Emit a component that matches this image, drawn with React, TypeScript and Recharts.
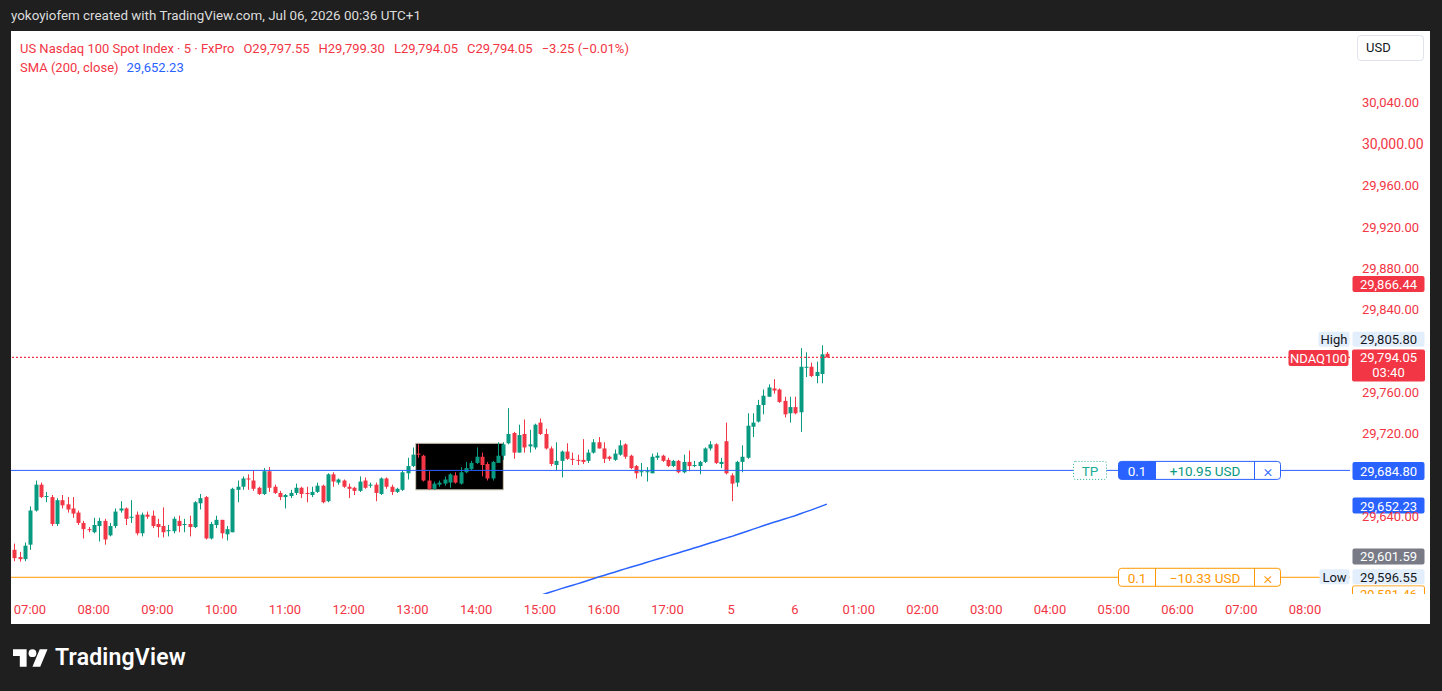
import React from 'react';
import { ComposedChart, Bar, Line, XAxis, YAxis, ReferenceLine, ReferenceArea } from 'recharts';

// 5-minute candles
const opens = [
  29608, 29601, 29599, 29613, 29646, 29671, 29659, 29659, 29633, 29656,
  29652, 29648, 29644, 29634, 29628, 29625, 29631, 29636, 29622, 29631,
  29646, 29648, 29639, 29642, 29624, 29642, 29641, 29633, 29631, 29626,
  29626, 29636, 29632, 29633, 29630, 29653, 29659, 29619, 29632, 29637,
  29623, 29625, 29666, 29669, 29677, 29675, 29668, 29662, 29684, 29669,
  29663, 29659, 29660, 29663, 29668, 29663, 29661, 29664, 29670, 29655,
  29681, 29673, 29675, 29669, 29668, 29665, 29675, 29670, 29671, 29662,
  29677, 29669, 29664, 29666, 29682, 29689, 29701, 29699, 29675, 29667,
  29671, 29672, 29673, 29680, 29672, 29683, 29686, 29692, 29698, 29691,
  29677, 29692, 29699, 29711, 29721, 29702, 29720, 29708, 29707, 29731,
  29720, 29706, 29690, 29694, 29703, 29696, 29695, 29695, 29694, 29702,
  29712, 29706, 29698, 29695, 29700, 29710, 29699, 29689, 29683, 29683,
  29682, 29697, 29699, 29695, 29689, 29694, 29683, 29693, 29689, 29689,
  29693, 29706, 29710, 29691, 29713, 29680, 29673, 29693, 29697, 29727,
  29732, 29748, 29756, 29764, 29763, 29752, 29740, 29746, 29741, 29784,
  29785, 29776, 29778, 29797.55,
];
const highs = [
  29614, 29606, 29615, 29650, 29675, 29673, 29664, 29661, 29658, 29661,
  29659, 29659, 29646, 29636, 29630, 29639, 29639, 29638, 29634, 29648,
  29655, 29649, 29656, 29645, 29644, 29645, 29646, 29638, 29649, 29632,
  29640, 29641, 29638, 29641, 29655, 29662, 29660, 29635, 29641, 29637,
  29631, 29668, 29675, 29679, 29681, 29685, 29669, 29687, 29688, 29671,
  29665, 29662, 29666, 29672, 29669, 29669, 29669, 29673, 29671, 29682,
  29683, 29677, 29676, 29672, 29669, 29679, 29678, 29673, 29673, 29678,
  29678, 29671, 29668, 29685, 29697, 29707, 29710, 29700, 29684, 29674,
  29675, 29679, 29682, 29683, 29688, 29693, 29694, 29707, 29702, 29693,
  29694, 29712, 29712, 29745, 29722, 29729, 29734, 29724, 29730, 29735,
  29725, 29708, 29712, 29704, 29711, 29702, 29700, 29715, 29705, 29715,
  29717, 29712, 29699, 29705, 29714, 29711, 29700, 29690, 29692, 29688,
  29701, 29702, 29700, 29697, 29695, 29695, 29700, 29704, 29694, 29694,
  29707, 29713, 29711, 29697, 29731, 29682, 29694, 29709, 29740, 29740,
  29753, 29763, 29768, 29773, 29764, 29756, 29756, 29756, 29803, 29799,
  29789, 29790, 29805.8, 29799.3,
];
const lows = [
  29597, 29596.55, 29597, 29608, 29645, 29658, 29654, 29631, 29631, 29648,
  29644, 29639, 29632, 29619, 29625, 29624, 29616, 29613, 29621, 29629,
  29644, 29632, 29634, 29622, 29621, 29638, 29629, 29620, 29620, 29621,
  29624, 29625, 29625, 29621, 29629, 29647, 29618, 29618, 29629, 29619,
  29617, 29625, 29654, 29666, 29666, 29665, 29661, 29661, 29664, 29662,
  29656, 29648, 29658, 29661, 29658, 29654, 29659, 29663, 29653, 29654,
  29669, 29671, 29668, 29658, 29661, 29664, 29667, 29668, 29655, 29661,
  29667, 29661, 29663, 29665, 29676, 29688, 29697, 29674, 29666, 29666,
  29669, 29670, 29668, 29672, 29671, 29682, 29685, 29691, 29679, 29675,
  29675, 29692, 29695, 29710, 29696, 29702, 29702, 29702, 29705, 29719,
  29705, 29689, 29685, 29678, 29695, 29690, 29690, 29691, 29692, 29701,
  29706, 29692, 29694, 29694, 29699, 29696, 29686, 29677, 29679, 29674,
  29682, 29695, 29693, 29688, 29688, 29682, 29682, 29684, 29688, 29681,
  29692, 29704, 29691, 29687, 29681, 29655, 29669, 29683, 29696, 29717,
  29731, 29739, 29756, 29759, 29750, 29736, 29731, 29739, 29722, 29775,
  29775, 29769, 29769, 29794.05,
];
const closes = [
  29600, 29599, 29612, 29646, 29671, 29659, 29660, 29633, 29656, 29651,
  29647, 29643, 29634, 29628, 29627, 29632, 29636, 29618, 29631, 29645,
  29648, 29638, 29640, 29624, 29642, 29640, 29631, 29630, 29625, 29627,
  29638, 29631, 29633, 29630, 29654, 29658, 29619, 29633, 29637, 29624,
  29628, 29667, 29669, 29677, 29676, 29667, 29662, 29684, 29668, 29663,
  29659, 29661, 29663, 29668, 29662, 29662, 29664, 29670, 29654, 29681,
  29674, 29676, 29669, 29667, 29665, 29674, 29668, 29671, 29663, 29677,
  29669, 29664, 29667, 29683, 29689, 29700, 29700, 29675, 29667, 29672,
  29673, 29676, 29681, 29673, 29683, 29687, 29692, 29698, 29690, 29677,
  29693, 29699, 29710, 29720, 29702, 29719, 29707, 29710, 29729, 29720,
  29706, 29691, 29694, 29703, 29696, 29695, 29694, 29693, 29702, 29712,
  29706, 29696, 29696, 29701, 29709, 29698, 29687, 29682, 29684, 29684,
  29698, 29699, 29694, 29689, 29694, 29683, 29693, 29689, 29690, 29693,
  29706, 29710, 29692, 29693, 29682, 29672, 29693, 29698, 29728, 29731,
  29748, 29757, 29765, 29762, 29751, 29739, 29746, 29740, 29785, 29785,
  29776, 29780, 29797, 29794.05,
];

// SMA(200) — only the visible part, from bar 99 on
const smaStart = 99;
const smaValues = [
  29563.9, 29565.5, 29567.2, 29568.8, 29570.5, 29572.0, 29573.6, 29575.1, 29576.7, 29578.4,
  29580.0, 29581.7, 29583.2, 29584.8, 29586.3, 29588.0, 29589.6, 29591.1, 29592.6, 29594.1,
  29595.7, 29597.3, 29598.9, 29600.4, 29601.9, 29603.5, 29605.0, 29606.6, 29608.1, 29609.7,
  29611.2, 29612.9, 29614.6, 29616.1, 29617.7, 29619.3, 29620.8, 29622.5, 29624.2, 29626.0,
  29627.8, 29629.5, 29631.2, 29632.9, 29634.6, 29636.2, 29637.8, 29639.4, 29641.0, 29642.9,
  29644.7, 29646.4, 29648.3, 29650.3, 29652.23,
];

const timeTicks = [3, 15, 27, 39, 51, 63, 75, 87, 99, 111, 123, 135, 147, 159, 171, 183, 195, 207, 219, 231, 243];
const timeLabels = ['07:00', '08:00', '09:00', '10:00', '11:00', '12:00', '13:00', '14:00', '15:00', '16:00', '17:00', '5', '6', '01:00', '02:00', '03:00', '04:00', '05:00', '06:00', '07:00', '08:00'];
const priceTicks = [29640, 29720, 29760, 29840, 29880, 29920, 29960, 30000, 30040];

const lastPrice = 29794.05;
const tpPrice = 29684.8;
const slPrice = 29581.46;
const smaLast = 29652.23;
const highPrice = 29805.8;
const lowPrice = 29596.55;
const alertPrice = 29866.44;
const greyPrice = 29601.59;
const boxX = [75.6, 92.1];
const boxY = [29666, 29711];

const RED = '#f23645';
const GREEN = '#089981';
const BLUE = '#2962ff';
const ORANGE = '#ff9800';
const FONT = 'Roboto, "Noto Sans", sans-serif';
const PLOT_H = 563;

const fmt = (v: number) => v.toLocaleString('en-US', { minimumFractionDigits: 2, maximumFractionDigits: 2 });

const data = opens.map((o, i) => ({
  i,
  open: o,
  high: highs[i],
  low: lows[i],
  close: closes[i],
  range: [lows[i], highs[i]],
  sma: i >= smaStart ? smaValues[i - smaStart] : null,
}));

const Candle = (props: any) => {
  const { x, y, width, height, payload } = props;
  if (!payload) return null;
  const { open, close, high, low } = payload;
  const color = close >= open ? GREEN : RED;
  const top = Math.min(y, y + height);
  const h = Math.abs(height);
  const ppu = h / (high - low);
  const cx = Math.round(x + width / 2) + 0.5;
  const bTop = top + (high - Math.max(open, close)) * ppu;
  const bH = Math.max(1, Math.abs(close - open) * ppu);
  return (
    <g>
      <line x1={cx} x2={cx} y1={top} y2={top + h} stroke={color} strokeWidth={1} />
      <rect x={cx - 2} y={bTop} width={4} height={bH} fill={color} />
    </g>
  );
};

function Tag({ x, y, w, h, text, bg, fg, stroke, dash, size = 13 }: any) {
  return (
    <g>
      <rect x={x + 0.5} y={y - h / 2 + 0.5} width={w - 1} height={h - 1} rx={2} fill={bg} stroke={stroke || 'none'} strokeDasharray={dash} />
      <text x={x + w / 2} y={y + 0.5} textAnchor="middle" dominantBaseline="central" fill={fg} fontSize={size} fontFamily={FONT}>{text}</text>
    </g>
  );
}

function OrderBox({ x, y, color, qty, pnl, pnlColor, filled }: any) {
  const h = 19;
  const w = 163;
  const top = y - h / 2 + 0.5;
  return (
    <g fontFamily={FONT} fontSize={13.5}>
      <rect x={x + 0.5} y={top} width={w - 1} height={h - 1} rx={3} fill="#fff" stroke={color} />
      {filled && <rect x={x + 0.5} y={top} width={37} height={h - 1} rx={3} fill={color} />}
      {filled && <rect x={x + 30} y={top} width={7.5} height={h - 1} fill={color} />}
      <line x1={x + 37.5} x2={x + 37.5} y1={top} y2={top + h - 1} stroke={color} />
      <line x1={x + 136.5} x2={x + 136.5} y1={top} y2={top + h - 1} stroke={color} />
      <text x={x + 19} y={y + 0.5} textAnchor="middle" dominantBaseline="central" fill={filled ? '#fff' : color}>{qty}</text>
      <text x={x + 87} y={y + 0.5} textAnchor="middle" dominantBaseline="central" fill={pnlColor}>{pnl}</text>
      <text x={x + 150} y={y + 0.5} textAnchor="middle" dominantBaseline="central" fill={color} fontSize={17} fontWeight={300}>×</text>
    </g>
  );
}

const right = (vb: any) => vb.x + vb.width;

const tpLabel = ({ viewBox }: any) => {
  const r = right(viewBox);
  const y = viewBox.y;
  return (
    <g>
      <Tag x={r - 277} y={y} w={34} h={19} text="TP" bg="#fff" fg="#22ab94" stroke="#22ab94" dash="1 2" size={13.5} />
      <OrderBox x={r - 232} y={y} color={BLUE} qty="0.1" pnl="+10.95 USD" pnlColor={GREEN} filled />
      <Tag x={r + 2} y={y + 0.5} w={73} h={19} text={fmt(tpPrice)} bg={BLUE} fg="#fff" />
    </g>
  );
};

const slLabel = ({ viewBox }: any) => {
  const r = right(viewBox);
  const y = viewBox.y;
  const top = y + 8;
  return (
    <g>
      <OrderBox x={r - 232} y={y} color={ORANGE} qty="0.1" pnl={'\u221210.33 USD'} pnlColor={ORANGE} />
      <svg x={r + 2} y={top} width={73} height={Math.max(0, PLOT_H - top)} overflow="hidden">
        <rect x={0.5} y={0.5} width={72} height={17} rx={2} fill="#fff" stroke={ORANGE} />
        <text x={36.5} y={9.5} textAnchor="middle" dominantBaseline="central" fill={ORANGE} fontSize={13} fontFamily={FONT}>{fmt(slPrice)}</text>
      </svg>
    </g>
  );
};

const lastLabel = ({ viewBox }: any) => {
  const r = right(viewBox);
  const y = viewBox.y;
  return (
    <g fontFamily={FONT}>
      <Tag x={r - 62} y={y + 0.5} w={61} h={17} text="NDAQ100" bg={RED} fg="#fff" />
      <rect x={r + 2} y={y - 8} width={73} height={32} rx={2} fill={RED} />
      <text x={r + 38.5} y={y + 0.5} textAnchor="middle" dominantBaseline="central" fill="#fff" fontSize={13}>{fmt(lastPrice)}</text>
      <text x={r + 38.5} y={y + 15.5} textAnchor="middle" dominantBaseline="central" fill="#fff" fontSize={13}>03:40</text>
    </g>
  );
};

const highLabel = ({ viewBox }: any) => {
  const r = right(viewBox);
  const y = viewBox.y - 6;
  return (
    <g>
      <Tag x={r - 32} y={y} w={32} h={16} text="High" bg="#e3eefc" fg="#131722" />
      <Tag x={r + 2} y={y} w={73} h={16} text={fmt(highPrice)} bg="#e3eefc" fg="#131722" />
    </g>
  );
};

const lowLabel = ({ viewBox }: any) => {
  const r = right(viewBox);
  const y = viewBox.y + 15;
  return (
    <g>
      <Tag x={r - 31} y={y} w={31} h={16} text="Low" bg="#e3eefc" fg="#131722" />
      <Tag x={r + 2} y={y} w={73} h={16} text={fmt(lowPrice)} bg="#e3eefc" fg="#131722" />
    </g>
  );
};

const axisTag = (price: number, bg: string, dy = 0) => ({ viewBox }: any) => (
  <Tag x={right(viewBox) + 2} y={viewBox.y + dy} w={73} h={17} text={fmt(price)} bg={bg} fg="#fff" />
);

const PriceTick = (props: any) => {
  const { x, y, payload } = props;
  const big = payload.value === 30000;
  return (
    <text x={x} y={y} dominantBaseline="central" fill={RED} fontSize={big ? 14 : 13} fontFamily={FONT}>
      {fmt(payload.value)}
    </text>
  );
};

export default function App() {
  return (
    <div style={{ position: 'absolute', left: 0, top: 0, width: 1442, height: 691, background: '#1f1f1f', fontFamily: FONT, overflow: 'hidden' }}>
      <div style={{ position: 'absolute', left: 11, top: 7, color: '#dcdcdc', fontSize: 13.4, lineHeight: '18px' }}>
        yokoyiofem created with TradingView.com, Jul 06, 2026 00:36 UTC+1
      </div>
      <div style={{ position: 'absolute', left: 11, top: 31, width: 1419, height: 593, background: '#fff' }}>
        <ComposedChart width={1419} height={593} data={data} margin={{ top: 0, right: 0, bottom: 0, left: 0 }}>
          <XAxis
            type="number"
            dataKey="i"
            domain={[-0.576, 251.47]}
            allowDataOverflow
            ticks={timeTicks}
            interval={0}
            tickFormatter={(v: number) => timeLabels[timeTicks.indexOf(v)] ?? ''}
            axisLine={false}
            tickLine={false}
            tickSize={0}
            tickMargin={11}
            height={30}
            tick={{ fill: RED, fontSize: 13, fontFamily: FONT }}
          />
          <YAxis
            orientation="right"
            width={80}
            domain={[29565.3, 30109.6]}
            allowDataOverflow
            ticks={priceTicks}
            interval={0}
            axisLine={false}
            tickLine={false}
            tickSize={0}
            tickMargin={12}
            tick={<PriceTick />}
          />
          <ReferenceArea x1={boxX[0]} x2={boxX[1]} y1={boxY[0]} y2={boxY[1]} fill="#000" fillOpacity={1} stroke="#cfc6b4" strokeWidth={1} />
          <ReferenceLine y={slPrice} stroke={ORANGE} strokeWidth={1} label={slLabel} />
          <ReferenceLine y={lowPrice} stroke="none" label={lowLabel} />
          <ReferenceLine y={greyPrice} stroke="none" label={axisTag(greyPrice, '#787b86')} />
          <ReferenceLine y={tpPrice} stroke={BLUE} strokeWidth={1} label={tpLabel} />
          <ReferenceLine y={smaLast} stroke="none" label={axisTag(smaLast, BLUE, 1.5)} />
          <ReferenceLine y={alertPrice} stroke="none" label={axisTag(alertPrice, RED, 1.5)} />
          <ReferenceLine y={lastPrice} stroke={RED} strokeWidth={1.3} strokeDasharray="2 2" label={lastLabel} />
          <ReferenceLine y={highPrice} stroke="none" label={highLabel} />
          <Bar dataKey="range" barSize={4} shape={<Candle />} isAnimationActive={false} />
          <Line dataKey="sma" stroke={BLUE} strokeWidth={1.5} dot={false} activeDot={false} connectNulls={false} isAnimationActive={false} />
        </ComposedChart>
        <div style={{ position: 'absolute', left: 9, top: 8, fontSize: 13, lineHeight: '19px', color: RED, whiteSpace: 'pre' }}>
          <div>
            <span>US Nasdaq 100 Spot Index · 5 · FxPro</span>
            <span style={{ marginLeft: 9 }}>O29,797.55</span>
            <span style={{ marginLeft: 9 }}>H29,799.30</span>
            <span style={{ marginLeft: 9 }}>L29,794.05</span>
            <span style={{ marginLeft: 9 }}>C29,794.05</span>
            <span style={{ marginLeft: 9 }}>{'\u22123.25 (\u22120.01%)'}</span>
          </div>
          <div>
            <span>SMA (200, close)</span>
            <span style={{ marginLeft: 8, color: BLUE }}>29,652.23</span>
          </div>
        </div>
        <div style={{ position: 'absolute', left: 1346, top: 4, width: 67, height: 26, boxSizing: 'border-box', border: '1px solid #e0e3eb', borderRadius: 4, background: '#fff', fontSize: 13, lineHeight: '24px', color: '#131722', paddingLeft: 8 }}>
          USD
        </div>
      </div>
      <div style={{ position: 'absolute', left: 13, top: 644, display: 'flex', alignItems: 'center' }}>
        <svg width={35} height={18} viewBox="0 4 36 18">
          <path d="M14 22H7V11H0V4h14v18zM28 22h-8l7.5-18h8L28 22z" fill="#fff" />
          <circle cx={20} cy={8} r={4} fill="#fff" />
        </svg>
        <span style={{ marginLeft: 7, color: '#fff', fontSize: 23, fontWeight: 600, letterSpacing: 0.2 }}>TradingView</span>
      </div>
    </div>
  );
}
